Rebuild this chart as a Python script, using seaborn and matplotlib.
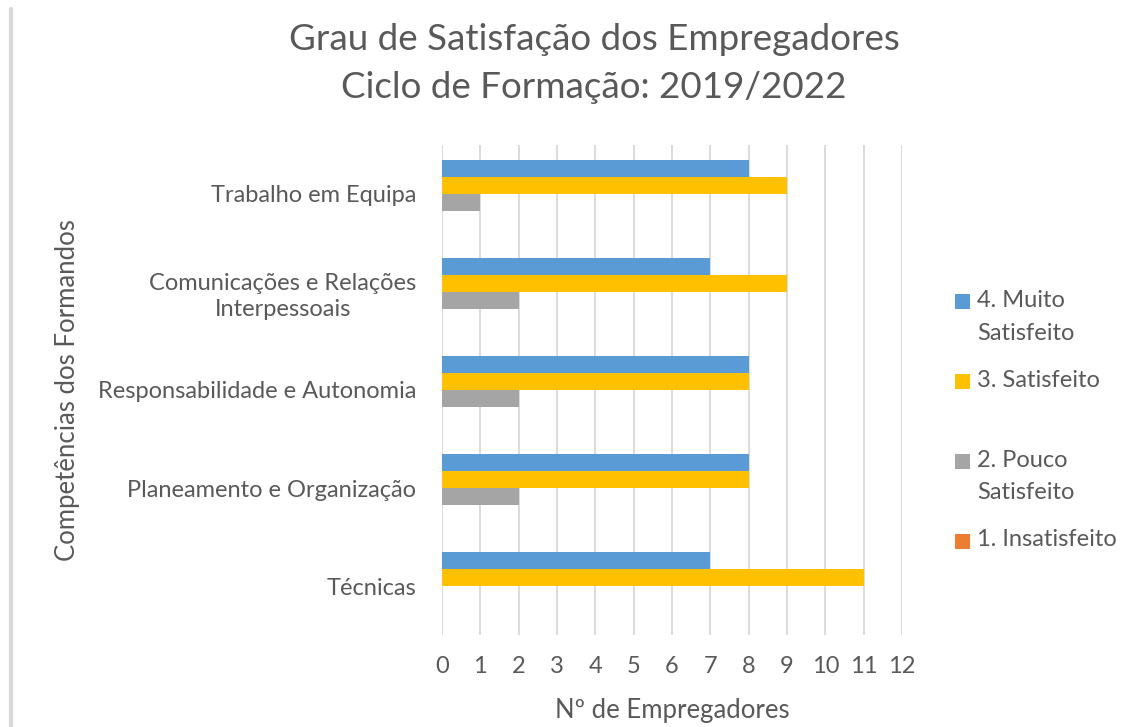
import matplotlib
matplotlib.use("Agg")
import matplotlib.pyplot as plt
from matplotlib.patches import Rectangle
from matplotlib.legend_handler import HandlerPatch
import seaborn as sns
import pandas as pd

# data
competencias = [
    "Trabalho em Equipa",
    "Comunicações e Relações\nInterpessoais",
    "Responsabilidade e Autonomia",
    "Planeamento e Organização",
    "Técnicas",
]
niveis = ["4. Muito Satisfeito", "3. Satisfeito", "2. Pouco Satisfeito", "1. Insatisfeito"]
legenda = ["4. Muito\nSatisfeito", "3. Satisfeito\n ", "2. Pouco\nSatisfeito", "1. Insatisfeito\n "]
muito_satisfeito = [8, 7, 8, 8, 7]
satisfeito = [9, 9, 8, 8, 11]
pouco_satisfeito = [1, 2, 2, 2, 0]
insatisfeito = [0, 0, 0, 0, 0]
cores = ["#5b9bd5", "#ffc000", "#a5a5a5", "#ed7d31"]

rows = []
for nivel, vals in zip(niveis, [muito_satisfeito, satisfeito, pouco_satisfeito, insatisfeito]):
    for comp, v in zip(competencias, vals):
        rows.append({"comp": comp, "nivel": nivel, "n": v})
df = pd.DataFrame(rows)

sns.set_style("white")
plt.rcParams["font.family"] = ["Lato", "DejaVu Sans"]
txt = "#595959"

fig = plt.figure(figsize=(11.38, 7.27), dpi=100)
ax = fig.add_axes([0.3884, 0.1265, 0.4042, 0.6741])

sns.barplot(data=df, y="comp", x="n", hue="nivel", orient="h",
            order=competencias, hue_order=niveis, palette=cores,
            width=0.7, saturation=1, errorbar=None, linewidth=0,
            ax=ax, zorder=3)

ax.set_xlim(0, 12)
ax.set_ylim(4.5, -0.5)
ax.set_xticks(range(0, 13))
ax.xaxis.grid(True, color="#d9d9d9", linewidth=1.3, zorder=0)
ax.yaxis.grid(False)
sns.despine(ax=ax, left=True, bottom=True)
ax.tick_params(axis="both", length=0, colors=txt)
ax.tick_params(axis="y", pad=18.5, labelsize=17)
ax.tick_params(axis="x", pad=15, labelsize=17)
for lab in ax.get_yticklabels():
    lab.set_horizontalalignment("right")
    lab.set_multialignment("center")
    lab.set_linespacing(1.3)

ax.set_xlabel("Nº de Empregadores", fontsize=18.5, color=txt, labelpad=15)
ax.set_ylabel("Competências dos Formandos", fontsize=18.5, color=txt)
ax.yaxis.set_label_coords(-0.787, 0.5)

fig.suptitle("Grau de Satisfação dos Empregadores\nCiclo de Formação: 2019/2022",
             x=0.522, y=0.968, fontsize=26.5, color=txt, linespacing=1.56)


# legend squares sit on the first line of each label
class TopSquare(HandlerPatch):
    def create_artists(self, legend, orig_handle, xdescent, ydescent,
                       width, height, fontsize, trans):
        s = 0.62 * fontsize
        p = Rectangle((xdescent + (width - s) / 2, ydescent + (height - s) / 2 + 0.7 * fontsize),
                      s, s, facecolor=orig_handle.get_facecolor(), linewidth=0,
                      transform=trans)
        return [p]


handles = [Rectangle((0, 0), 1, 1, facecolor=c) for c in cores]
ax.legend(handles, legenda, loc="center left", bbox_to_anchor=(1.07, 0.405),
          frameon=False, fontsize=17, labelcolor=txt, handlelength=0.62,
          handleheight=0.62, handletextpad=0.3, labelspacing=1.1,
          handler_map={Rectangle: TopSquare()})
for t in ax.get_legend().get_texts():
    t.set_linespacing(1.7)

# thin grey border on the left edge of the image
fig.add_artist(plt.Line2D([0.0097, 0.0097], [0, 0.987], color="#d9d9d9", linewidth=3))

fig.savefig("out.png", dpi=100, facecolor="white")
